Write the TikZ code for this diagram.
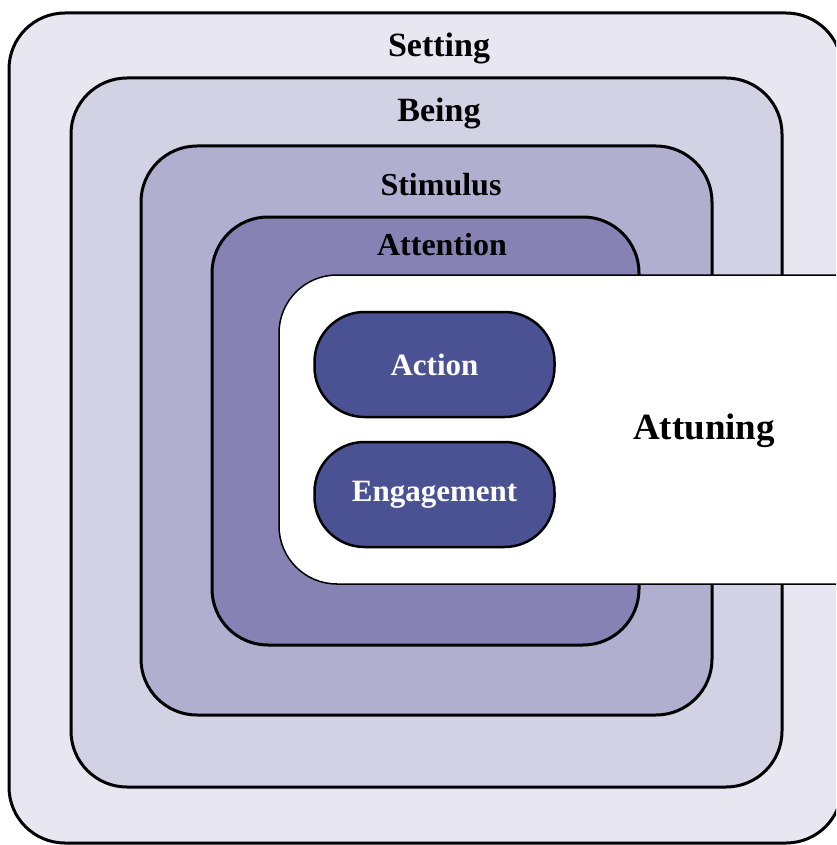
\documentclass[tikz,border=0pt]{standalone}
\usepackage{fontspec}
\setmainfont{Liberation Serif}

\definecolor{settingfill}{RGB}{232,230,241}
\definecolor{beingfill}{RGB}{211,210,229}
\definecolor{stimulusfill}{RGB}{176,175,208}
\definecolor{attentionfill}{RGB}{134,131,180}
\definecolor{actfill}{RGB}{75,82,148}

\tikzset{
    layer/.style={draw=black, line width=3pt, rounded corners=56pt},
    layertitle/.style={anchor=base, font=\fontsize{#1}{#1}\selectfont\bfseries},
    pill/.style={rectangle, rounded corners=50pt, draw=black, line width=2.5pt,
        fill=actfill, text=white, minimum width=240pt, minimum height=105pt,
        font=\fontsize{31}{31}\selectfont\bfseries}
}

\begin{document}
\begin{tikzpicture}[x=1pt, y=-1pt]
        \useasboundingbox (0, 0) rectangle (836, 845);
        \clip (0, 0) rectangle (836, 845);
        \fill[white] (0, 0) rectangle (836, 845);

        % nested layers
        \draw[layer, fill=settingfill] (9, 13) rectangle (842, 843);
        \draw[layer, fill=beingfill] (71, 78) rectangle (782, 787);
        \draw[layer, fill=stimulusfill] (141, 146) rectangle (712, 715);
        \draw[layer, fill=attentionfill] (212, 217) rectangle (639, 645);

        \node[layertitle=34] (setting) at (439, 57) {Setting};
        \node[layertitle=34] (being) at (439, 122) {Being};
        \node[layertitle=32] (stimulus) at (441, 195) {Stimulus};
        \node[layertitle=32] (attention) at (442, 255) {Attention};

        % Attuning
        \draw[line width=1.5pt, fill=white, rounded corners=58pt]
            (900, 275) -- (279, 275) -- (279, 584) -- (900, 584);
        \node[layertitle=37] (attuning) at (704, 439) {Attuning};

        \node[pill] (action) at (434.5, 364.5) {Action};
        \node[pill] (engagement) at (434.5, 494.5) {Engagement};
    \end{tikzpicture}
\end{document}
